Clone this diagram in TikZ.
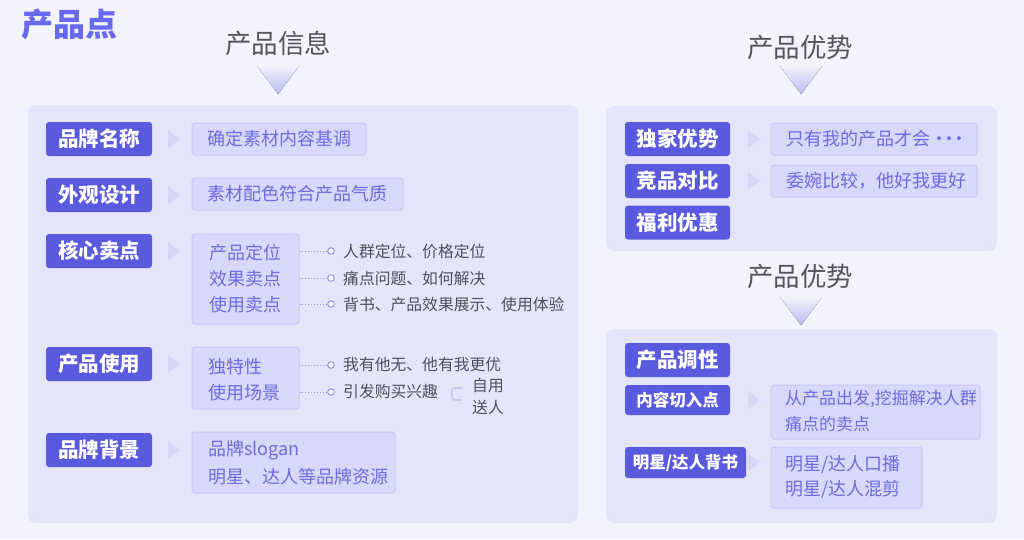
\documentclass[tikz,border=0pt]{standalone}
\usepackage{fontspec}
\setmainfont{Noto Sans CJK SC}
\usetikzlibrary{shadows}
\definecolor{bg}{RGB}{243,243,251}
\definecolor{panel}{RGB}{228,228,250}
\definecolor{purp}{RGB}{90,90,222}
\definecolor{titlec}{RGB}{104,104,240}
\definecolor{lfill}{RGB}{216,216,250}
\definecolor{ldraw}{RGB}{200,200,246}
\definecolor{ltext}{RGB}{108,108,222}
\definecolor{gtext}{RGB}{80,80,90}
\definecolor{htext}{RGB}{85,85,92}
\definecolor{dotc}{RGB}{150,150,228}
\definecolor{chev}{RGB}{186,186,246}
\definecolor{schev}{RGB}{214,214,248}
\begin{document}
\begin{tikzpicture}[x=1pt,y=-1pt,
  lab/.style={fill=purp, rounded corners=3pt, text=white, inner sep=0pt,
    font=\fontsize{20.5}{24}\selectfont\bfseries, minimum width=106pt, minimum height=34pt},
  labs/.style={lab, font=\fontsize{16.5}{20}\selectfont\bfseries},
  lbox/.style={fill=lfill, draw=ldraw, line width=1pt, rounded corners=3pt, inner sep=0pt,
    text=ltext, font=\fontsize{18}{22}\selectfont},
  ltxt/.style={text=ltext, font=\fontsize{18}{22}\selectfont, inner sep=0pt, anchor=west},
  gtxt/.style={text=gtext, font=\fontsize{15.8}{18}\selectfont, inner sep=0pt, anchor=west},
  head/.style={text=htext, font=\fontsize{26.5}{30}\selectfont, inner sep=0pt},
  panelbox/.style={fill=panel, rounded corners=8pt, drop shadow={shadow xshift=0pt, shadow yshift=-3pt, opacity=0.10, fill=purp}},
  dotline/.style={draw=dotc, dotted, line width=0.9pt},
  dotend/.style={circle, draw=dotc, fill=white, line width=1pt, inner sep=0pt, minimum size=6.5pt},
  smallchev/.style={fill=schev},
  bigchev/.style={top color=bg, bottom color=chev}
]
\useasboundingbox (0,0) rectangle (1024,539);
\fill[bg] (0,0) rectangle (1024,539);

% title and headers
\node[text=titlec, font=\fontsize{32}{36}\selectfont\bfseries, inner sep=0pt, anchor=west] (title) at (21,24) {产品点};
\node[head] (h1) at (278,43) {产品信息};
\node[head] (h2) at (800,48) {产品优势};
\node[head] (h3) at (800,277) {产品优势};
\fill[bigchev] (257,66) -- (299,66) -- (278,94) -- cycle;
\fill[bigchev] (780,66) -- (822,66) -- (801,94) -- cycle;
\fill[bigchev] (780,297) -- (822,297) -- (801,325) -- cycle;

% panels
\fill[panelbox] (28,105) rectangle (578,520);
\fill[panelbox] (606,106) rectangle (997,248);
\fill[panelbox] (606,329) rectangle (997,520);

% left labels
\node[lab] (l1) at (99,139) {品牌名称};
\node[lab] (l2) at (99,195) {外观设计};
\node[lab] (l3) at (99,251) {核心卖点};
\node[lab] (l4) at (99,364) {产品使用};
\node[lab] (l5) at (99,450) {品牌背景};
\foreach \yy in {139,195,251,364,450}{\fill[smallchev] (168,\yy-9) -- (180,\yy) -- (168,\yy+9) -- cycle;}

% left boxes
\node[lbox, minimum width=174pt, minimum height=32pt] (b1) at (279,139) {确定素材内容基调};
\node[lbox, minimum width=211pt, minimum height=32pt] (b2) at (297.5,194) {素材配色符合产品气质};
\node[lbox, minimum width=107pt, minimum height=90pt] (b3) at (245.5,279) {};
\node[ltxt] (b3a) at (209,253) {产品定位};
\node[ltxt] (b3b) at (209,279) {效果卖点};
\node[ltxt] (b3c) at (209,305) {使用卖点};
\node[lbox, minimum width=107pt, minimum height=62pt] (b4) at (245.5,378) {};
\node[ltxt] (b4a) at (208,367) {独特性};
\node[ltxt] (b4b) at (208,393) {使用场景};
\node[lbox, minimum width=203pt, minimum height=61pt] (b5) at (293.5,462.5) {};
\node[ltxt] (b5a) at (208,450) {品牌slogan};
\node[ltxt] (b5b) at (208,477) {明星、达人等品牌资源};

% dotted branches
\node[dotend] (c1) at (331,251) {};
\node[dotend] (c2) at (331,278) {};
\node[dotend] (c3) at (331,304) {};
\node[dotend] (c4) at (331,365) {};
\node[dotend] (c5) at (331,392) {};
\draw[dotline] (b3.east |- c1) -- (c1.west);
\draw[dotline] (b3.east |- c2) -- (c2.west);
\draw[dotline] (b3.east |- c3) -- (c3.west);
\draw[dotline] (b4.east |- c4) -- (c4.west);
\draw[dotline] (b4.east |- c5) -- (c5.west);
\node[gtxt] (g1) at (343,251) {人群定位、价格定位};
\node[gtxt] (g2) at (343,278) {痛点问题、如何解决};
\node[gtxt] (g3) at (343,304) {背书、产品效果展示、使用体验};
\node[gtxt] (g4) at (343,365) {我有他无、他有我更优};
\node[gtxt] (g5) at (343,391) {引发购买兴趣};
\draw[ldraw, line width=1.6pt, rounded corners=2.5pt] (462,388) -- (452,388) -- (452,400) -- (462,400);
\node[gtxt] (g6) at (472,386) {自用};
\node[gtxt] (g7) at (472,407) {送人};

% right labels
\node[lab, minimum width=105pt] (r1) at (677.5,139) {独家优势};
\node[lab, minimum width=105pt] (r2) at (677.5,181) {竞品对比};
\node[lab, minimum width=105pt] (r3) at (677.5,222.5) {福利优惠};
\node[lab, minimum width=105pt] (r4) at (677.5,360) {产品调性};
\node[labs, minimum width=105pt, minimum height=30pt] (r5) at (677.5,400) {内容切入点};
\node[labs, minimum width=121pt, minimum height=31pt] (r6) at (685.5,462.5) {明星/达人背书};
\foreach \yy in {139,181,400,462}{\fill[smallchev] (748,\yy-9) -- (760,\yy) -- (748,\yy+9) -- cycle;}

% right boxes
\node[lbox, minimum width=206pt, minimum height=32pt] (rb1) at (874,139) {};
\node[ltxt] (rb1t) at (786,139) {只有我的产品才会·\kern-8pt·\kern-8pt·};
\node[lbox, minimum width=206pt, minimum height=32pt] (rb2) at (874,181) {};
\node[ltxt] (rb2t) at (786,181) {委婉比较，他好我更好};
\node[lbox, minimum width=209pt, minimum height=54pt] (rb3) at (875.5,412) {};
\node[ltxt, font=\fontsize{17}{20}\selectfont] (rb3a) at (785,399) {从产品出发,挖掘解决人群};
\node[ltxt, font=\fontsize{17}{20}\selectfont] (rb3b) at (785,424) {痛点的卖点};
\node[lbox, minimum width=151pt, minimum height=61pt] (rb4) at (846.5,477.5) {};
\node[ltxt] (rb4a) at (785,465) {明星/达人口播};
\node[ltxt] (rb4b) at (785,490) {明星/达人混剪};
\end{tikzpicture}
\end{document}
